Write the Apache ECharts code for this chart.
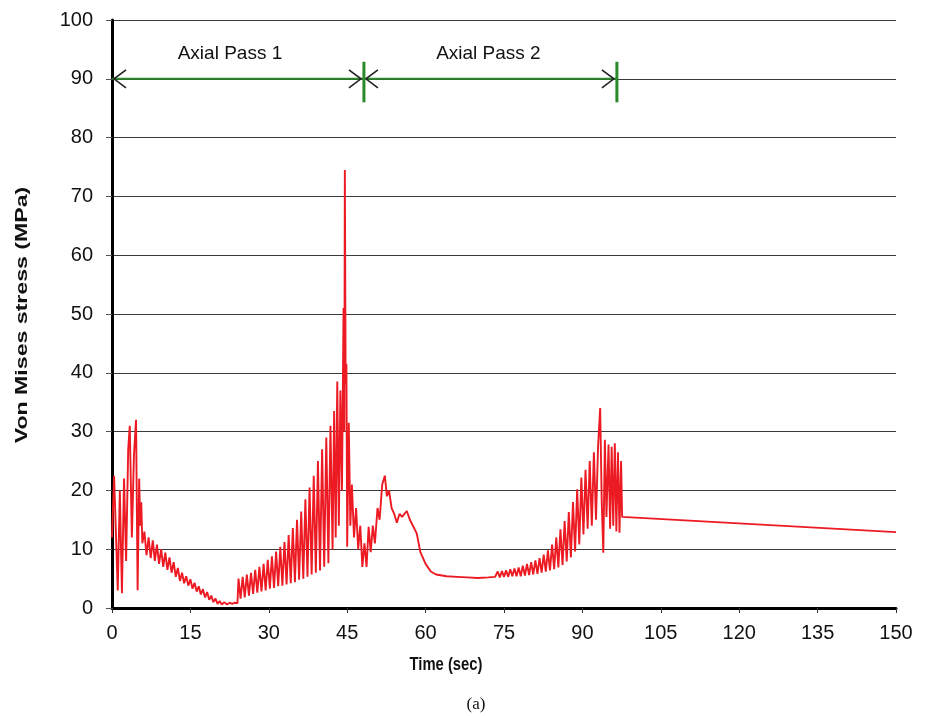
<!DOCTYPE html>
<html>
<head>
<meta charset="utf-8">
<script src="https://cdn.jsdelivr.net/npm/echarts@6/dist/echarts.min.js"></script>
<style>
html,body{margin:0;padding:0;background:#fff;}
#chart{width:926px;height:716px;}
</style>
</head>
<body>
<div id="chart"></div>
<script>
// Time (sec) of each sampled extreme of the stress trace
var timeSec = [
 0,0.4,1.1,1.5,1.9,2.3,2.7,3.1,3.4,3.8,4.2,4.6,4.9,5.2,5.4,5.6,5.8,
 6.2,6.6,7.0,7.4,7.8,8.2,8.6,9.0,9.4,9.8,10.2,10.6,11.0,11.4,11.8,12.2,12.6,13.0,13.4,13.8,14.2,14.6,15.0,15.4,15.8,16.2,16.6,17.0,17.4,17.8,18.2,18.6,19.0,19.4,19.8,20.2,20.6,21.0,21.5,22,22.5,23,23.5,24,
 24.2,24.6,25.0,25.4,25.8,26.2,26.6,27.0,27.4,27.8,28.2,28.6,29.0,29.4,29.8,30.2,30.6,31.0,31.4,31.8,32.2,32.6,33.0,33.4,33.8,34.2,34.6,35.0,35.4,35.8,36.2,36.6,37.0,37.4,37.8,38.2,38.6,39.0,39.4,39.8,40.2,40.6,41.0,41.4,41.8,42.2,42.5,42.8,43.1,43.4,43.7,44.0,
 44.3,44.45,44.55,44.7,44.85,45.0,45.3,45.6,45.9,46.3,46.7,47.1,47.5,47.9,48.3,48.7,49.1,49.5,49.9,50.3,50.8,51.2,51.7,52.2,52.6,53.0,53.5,54.0,54.5,55.0,55.5,56.4,57.0,58.3,59,60,61,62,64,66,68,70,72,73.3,
 73.8,74.2,74.6,75.0,75.4,75.8,76.2,76.6,77.0,77.4,77.8,78.2,78.6,79.0,79.4,79.8,80.2,80.6,81.0,81.4,81.8,82.2,82.6,83.0,83.4,83.8,84.2,84.6,85.0,85.4,85.8,86.2,86.6,87.0,87.4,87.8,88.2,88.6,89.0,89.4,89.8,90.2,90.6,91.0,91.4,91.8,92.2,92.6,
 93.0,93.4,93.7,94.0,94.3,94.6,95.0,95.3,95.6,95.9,96.2,96.5,96.8,97.1,97.4,97.6,150
];
// Von Mises stress (MPa) at each of the times above
var stressMPa = [
 12,22.5,3,20,2.5,22,8,27,31,12,26,32,3,22,14,18,11,
 13,9,12,8.5,11.5,8,10.8,7.5,10,7,9.4,6.5,8.6,6,7.8,5.3,6.8,4.6,6,4.2,5.4,3.8,4.9,3.3,4.3,2.8,3.7,2.3,3.2,1.8,2.7,1.4,2.1,1.0,1.6,0.7,1.2,0.6,1.0,0.6,0.9,0.7,0.9,0.8,
 5.0,1.6,5.3,1.8,5.7,2.1,6.0,2.4,6.5,2.6,7.0,2.8,7.5,3.0,8.2,3.3,8.8,3.4,9.6,3.7,10.4,3.8,11.2,4.0,12.4,4.2,13.6,4.4,15.0,4.8,16.4,5.0,18.5,5.3,20.5,5.7,22.5,6.0,25.0,6.4,27.0,7.0,29.0,7.6,31.0,10.0,33.5,12.0,38.5,14.0,37.0,20.0,
 51.0,30,74.5,38,41.5,10.4,31.5,14,21,12,17,10,14,7,11,7,13.8,9.5,14,11,17,15,21,22.5,19,20,17,16,14.5,16,15.5,16.5,15,12.7,9.5,7.5,6.2,5.7,5.4,5.3,5.2,5.1,5.2,5.3,
 6.2,5.2,6.3,5.3,6.4,5.3,6.6,5.4,6.7,5.4,6.9,5.4,7.2,5.5,7.5,5.6,7.8,5.7,8.1,5.8,8.5,6.0,9.1,6.2,9.8,6.4,10.8,6.6,12.0,6.9,13.4,7.3,14.8,7.9,16.3,8.6,18.0,9.6,20.2,10.8,22.2,12.5,23.5,13.5,25.0,14.0,26.5,15.0,
 27.5,34.0,18,9.4,28.6,15.5,27.8,13.5,27.4,14,28,13,26.5,12.8,25,15.5,12.9
];
// Axis ticks
var xTicks = [0,15,30,45,60,75,90,105,120,135,150];
var yTicks = [0,10,20,30,40,50,60,70,80,90,100];
// Pass annotations (sec), at stress level 90 MPa
var passNames = ['Axial Pass 1','Axial Pass 2'];
var passStart = [0,48.2];
var passEnd = [48.2,96.6];
var passLevel = 90;

var seriesData = timeSec.map(function(t,i){return [t, stressMPa[i]];});

var chart = echarts.init(document.getElementById('chart'), null, {renderer:'canvas'});
var lab = 'Liberation Sans, Arial, sans-serif';
chart.setOption({
  animation:false,
  backgroundColor:'#fff',
  grid:{left:112,right:30,top:20,bottom:108,containLabel:false},
  xAxis:{
    type:'value',min:xTicks[0],max:xTicks[xTicks.length-1],interval:15,
    axisLine:{show:true,onZero:false,lineStyle:{color:'#000',width:3}},
    axisTick:{show:true,length:5,lineStyle:{color:'#333',width:1}},
    axisLabel:{color:'#111',fontSize:20,fontFamily:lab,margin:15},
    splitLine:{show:false}
  },
  yAxis:{
    type:'value',min:yTicks[0],max:yTicks[yTicks.length-1],interval:10,
    axisLine:{show:true,onZero:false,lineStyle:{color:'#000',width:3}},
    axisTick:{show:true,length:6,lineStyle:{color:'#555',width:1}},
    axisLabel:{color:'#111',fontSize:20,fontFamily:lab,margin:19},
    splitLine:{show:true,lineStyle:{color:'#3a3a3a',width:1.2}}
  },
  series:[{
    type:'line',data:seriesData,showSymbol:false,symbol:'none',
    lineStyle:{color:'#ec1a22',width:1.9},
    z:3
  }]
});

// Annotations placed through the chart's own scales
function px(t,v){return chart.convertToPixel({gridIndex:0},[t,v]);}
var g = [];
var green = '#2a8a2a';
for (var i=0;i<passNames.length;i++){
  var pa = px(passStart[i],passLevel), pb = px(passEnd[i],passLevel);
  g.push({type:'line',shape:{x1:pa[0],y1:pa[1],x2:pb[0],y2:pb[1]},style:{stroke:green,lineWidth:2},z:10});
  g.push({type:'polyline',shape:{points:[[pa[0]+14,pa[1]-9],[pa[0]+2,pa[1]],[pa[0]+14,pa[1]+9]]},style:{stroke:'#222',lineWidth:1.6,fill:null},z:11});
  g.push({type:'polyline',shape:{points:[[pb[0]-15,pb[1]-9],[pb[0]-3,pb[1]],[pb[0]-15,pb[1]+9]]},style:{stroke:'#222',lineWidth:1.6,fill:null},z:11});
  var barTop = px(passEnd[i],passLevel+2.9), barBot = px(passEnd[i],passLevel-4.0);
  g.push({type:'line',shape:{x1:barTop[0],y1:barTop[1],x2:barBot[0],y2:barBot[1]},style:{stroke:green,lineWidth:3},z:12});
  var mid = px((passStart[i]+passEnd[i])/2, passLevel+4.2);
  g.push({type:'text',x:mid[0]+(i===0?-8:-2),y:mid[1],style:{text:passNames[i],fill:'#111',font:'19px Liberation Sans, Arial, sans-serif',textAlign:'center',textVerticalAlign:'middle'},z:12});
}
g.push({type:'text',x:22,y:315,rotation:Math.PI/2,scaleX:1.36,style:{text:'Von Mises stress (MPa)',fill:'#111',font:'bold 17px Liberation Sans, Arial, sans-serif',textAlign:'center',textVerticalAlign:'middle'}});
g.push({type:'text',x:446,y:665,scaleX:0.78,style:{text:'Time (sec)',fill:'#111',font:'bold 19px Liberation Sans, Arial, sans-serif',textAlign:'center',textVerticalAlign:'middle'}});
g.push({type:'text',x:476,y:705,style:{text:'(a)',fill:'#111',font:'17px Liberation Serif, Times New Roman, serif',textAlign:'center',textVerticalAlign:'middle'}});
chart.setOption({graphic:g});
</script>
</body>
</html>
